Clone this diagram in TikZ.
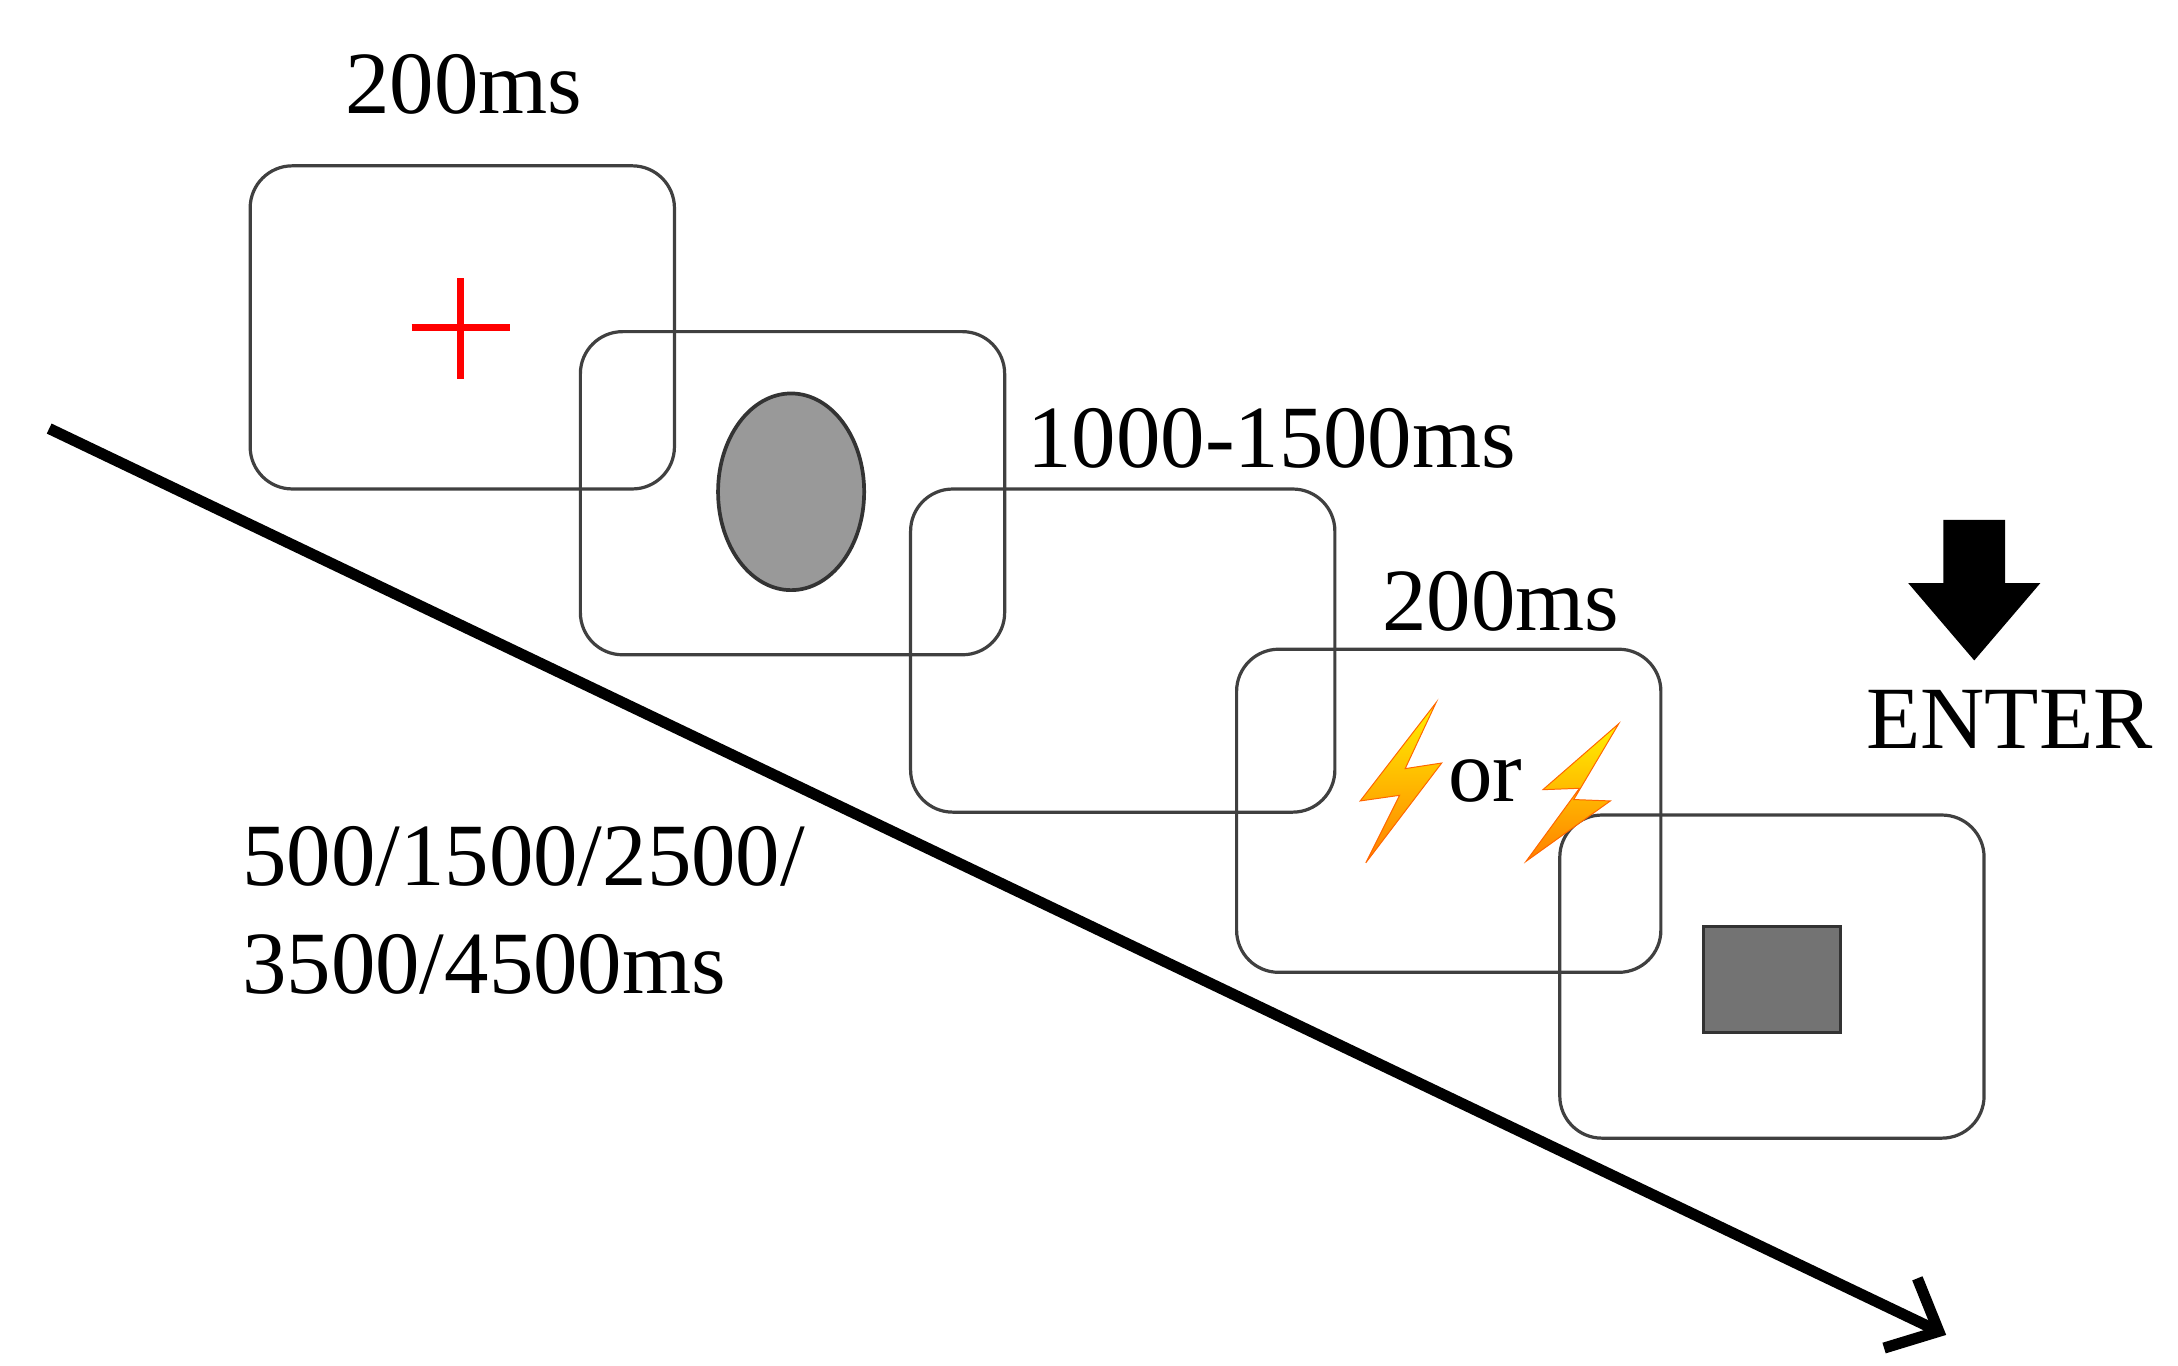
\documentclass[tikz,border=0pt]{standalone}
\usepackage{fontspec}
\setmainfont{Liberation Serif}
\usetikzlibrary{arrows.meta,shapes.geometric}
\begin{document}
\begin{tikzpicture}[x=0.02cm,y=-0.02cm,
  box/.style={draw=black!75,line width=1.3pt,rounded corners=0.6cm,minimum width=6.04cm,minimum height=4.6cm,inner sep=0},
  lbl/.style={font=\fontsize{36}{42}\selectfont,inner sep=0},
  bolt/.style={draw=orange!80!red,line width=0.4pt,top color=yellow!90!orange,bottom color=orange}]
\useasboundingbox (0,0) rectangle (1550,972);
\node[box] (b1) at (329,233) {};
\node[box] (b2) at (564,351) {};
\node[box] (b3) at (799,463) {};
\node[box] (b4) at (1031,577) {};
\node[box] (b5) at (1261,695) {};
\node[lbl] (t1) at (330,60) {200ms};
\node[lbl] (t2) at (905,312) {1000-1500ms};
\node[lbl] (t3) at (1068,428) {200ms};
\node[lbl] (t4) at (1430,512) {ENTER};
\node[lbl,anchor=west,align=left] (t5) at (172,648) {500/1500/2500/\\[2pt]3500/4500ms};
\node[lbl] (or) at (1057,556) {or};
\draw[red,line width=2.8pt] (293,233) -- (363,233) (328,198) -- (328,270);
\node[draw=black!80,fill=black!40,line width=1.5pt,ellipse,minimum width=2.08cm,minimum height=2.8cm,inner sep=0] (el) at (563,350) {};
\node[draw=black!80,fill=black!55,line width=1.2pt,minimum width=1.96cm,minimum height=1.5cm,inner sep=0] (rc) at (1261,697) {};
\fill[black] (1383,370) -- (1427,370) -- (1427,415) -- (1452,415) -- (1405,470) -- (1358,415) -- (1383,415) -- cycle;
\coordinate (s) at (35,305);
\coordinate (e) at (1385,950);
\draw[line width=4.5pt,-{Straight Barb[length=0.6cm,width=1.1cm,line width=4.5pt]}] (s) -- (e);
\draw[bolt] (1022,500) -- (968,570) -- (996,566) -- (972,614) -- (1026,543) -- (1000,547) -- cycle;
\draw[bolt] (1152,515) -- (1098,562) -- (1124,561) -- (1086,613) -- (1146,570) -- (1120,569) -- cycle;
\end{tikzpicture}
\end{document}
